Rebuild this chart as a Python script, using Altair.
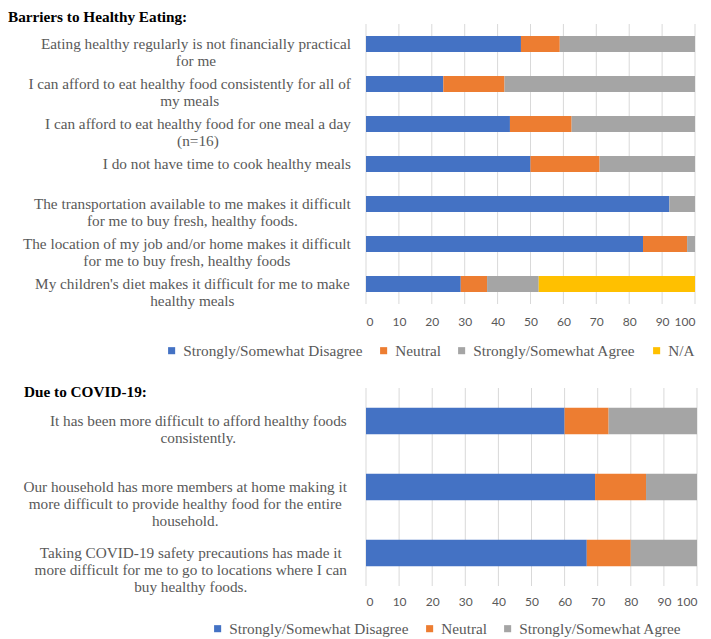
import altair as alt
import pandas as pd

# ---------------- data ----------------
title1 = "Barriers to Healthy Eating:"
title2 = "Due to COVID-19:"

responses1 = ["Strongly/Somewhat Disagree", "Neutral", "Strongly/Somewhat Agree", "N/A"]
responses2 = ["Strongly/Somewhat Disagree", "Neutral", "Strongly/Somewhat Agree"]
colors1 = ["#4472C4", "#ED7D31", "#A5A5A5", "#FFC000"]
colors2 = ["#4472C4", "#ED7D31", "#A5A5A5"]

items1 = [
    "Eating healthy regularly is not financially practical\nfor me",
    "I can afford to eat healthy food consistently for all of\nmy meals",
    "I can afford to eat healthy food for one meal a day\n(n=16)",
    "I do not have time to cook healthy meals",
    "The transportation available to me makes it difficult\nfor me to buy fresh, healthy foods.",
    "The location of my job and/or home makes it difficult\nfor me to buy fresh, healthy foods",
    "My children's diet makes it difficult for me to make\nhealthy meals",
]
disagree1 = [47.1, 23.5, 43.75, 50.0, 92.2, 84.2, 28.8]
neutral1 = [11.8, 18.6, 18.75, 21.0, 0.0, 13.4, 8.0]
agree1 = [41.1, 57.9, 37.5, 29.0, 7.8, 2.4, 15.7]
na1 = [0.0, 0.0, 0.0, 0.0, 0.0, 0.0, 47.5]

items2 = [
    "It has been more difficult to afford healthy foods\nconsistently.",
    "Our household has more members at home making it\nmore difficult to provide healthy food for the entire\nhousehold.",
    "Taking COVID-19 safety precautions has made it\nmore difficult for me to go to locations where I can\nbuy healthy foods.",
]
disagree2 = [60.0, 69.2, 66.7]
neutral2 = [13.3, 15.4, 13.3]
agree2 = [26.7, 15.4, 20.0]

ticks = list(range(0, 101, 10))

# ---------------- styling ----------------
FS = 15.25
SERIF = "Liberation Serif"
GRAY_TXT = "#595959"
GRID = "#D9D9D9"

# Times metrics (per 1000 em) used to centre wrapped lines inside a right-aligned block
_W = {" ": 250, "!": 333, "'": 333, "(": 333, ")": 333, ",": 250, "-": 333, ".": 250,
      "/": 278, ":": 278, "=": 564,
      "A": 722, "B": 667, "C": 667, "D": 722, "E": 611, "F": 556, "G": 722, "H": 722,
      "I": 333, "J": 389, "K": 722, "L": 611, "M": 889, "N": 722, "O": 722, "P": 556,
      "Q": 722, "R": 667, "S": 556, "T": 611, "U": 722, "V": 722, "W": 944, "X": 722,
      "Y": 722, "Z": 611,
      "a": 444, "b": 500, "c": 444, "d": 500, "e": 444, "f": 333, "g": 500, "h": 500,
      "i": 278, "j": 278, "k": 500, "l": 278, "m": 778, "n": 500, "o": 500, "p": 500,
      "q": 500, "r": 333, "s": 389, "t": 278, "u": 500, "v": 500, "w": 722, "x": 500,
      "y": 500, "z": 444}


def text_width(s, size):
    return sum(_W.get(c, 500) for c in s) * size / 1000.0


def panel(items, series, responses, colors, title, width, height, label_right,
          title_x, title_y, legend_x, legend_y, col_pad, label_pad):
    rows = []
    for i, it in enumerate(items):
        for j, (r, vals) in enumerate(zip(responses, series)):
            rows.append({"item": it, "response": r, "value": vals[i], "ord": j})
    df = pd.DataFrame(rows)
    lab = pd.DataFrame({
        "item": items,
        "lx": [label_right - max(text_width(l, FS) for l in it.split("\n")) / 2 for it in items],
    })
    xscale = alt.Scale(domain=[0, 100], nice=False)
    xaxis = alt.Axis(values=ticks, title=None, grid=False, domain=False, ticks=False,
                     labelPadding=label_pad, labelOverlap=False, labelFont="Lato",
                     labelFontSize=12, labelColor=GRAY_TXT)
    yenc = alt.Y("item:N", sort=items, axis=None,
                 scale=alt.Scale(paddingInner=0.6, paddingOuter=0.3))
    # vertical gridlines drawn as filled 1px ticks
    grid = alt.Chart(pd.DataFrame({"gx": ticks})).mark_tick(
        color=GRID, thickness=1, size=height, orient="vertical", opacity=1
    ).encode(
        x=alt.X("gx:Q", scale=xscale, axis=xaxis),
        y=alt.value(height / 2),
    )
    bars = alt.Chart(df).mark_bar().encode(
        x=alt.X("value:Q", stack="zero", scale=xscale, axis=xaxis),
        y=yenc,
        color=alt.Color("response:N",
                        scale=alt.Scale(domain=responses, range=colors),
                        legend=alt.Legend(title=None, orient="none", legendX=legend_x,
                                          legendY=legend_y, direction="horizontal",
                                          columns=len(responses), columnPadding=col_pad,
                                          labelFont=SERIF, labelFontSize=FS,
                                          labelColor=GRAY_TXT, labelLimit=0,
                                          symbolType="square", symbolSize=50,
                                          symbolStrokeWidth=0, labelOffset=4)),
        order=alt.Order("ord:Q"),
    )
    labels = alt.Chart(lab).mark_text(
        align="center", baseline="middle", lineBreak="\n", font=SERIF,
        fontSize=FS, color=GRAY_TXT, lineHeight=17,
    ).encode(x=alt.X("lx:Q", scale=None), y=yenc, text="item:N")
    ttl = alt.Chart(pd.DataFrame({"tt": [title]})).mark_text(
        align="left", baseline="middle", font=SERIF, fontSize=FS,
        fontWeight="bold", color="black",
    ).encode(x=alt.value(title_x), y=alt.value(title_y), text="tt:N")
    return alt.layer(grid, bars, labels, ttl).properties(width=width, height=height)


top = panel(items1, [disagree1, neutral1, agree1, na1], responses1, colors1, title1,
            329, 280, -15, -358, -7, -202, 319, 13, 12)
bottom = panel(items2, [disagree2, neutral2, agree2], responses2, colors2, title2,
               331, 198, -19, -342, 4, -156, 233, 13, 10)

chart = (
    alt.vconcat(top, bottom, spacing=26)
    .resolve_scale(color="independent")
    .resolve_legend(color="independent")
    .properties(padding={"top": 2, "left": 0, "right": 0, "bottom": 0})
    .configure(font=SERIF)
    .configure_view(stroke=None)
    .configure_axis(labelFont="Lato", labelFontSize=12, labelColor=GRAY_TXT)
    .configure_legend(padding=0, labelFont=SERIF, labelFontSize=FS, labelColor=GRAY_TXT,
                      labelLimit=0)
)

chart.save("out.html", embed_options={"renderer": "svg", "actions": False})
